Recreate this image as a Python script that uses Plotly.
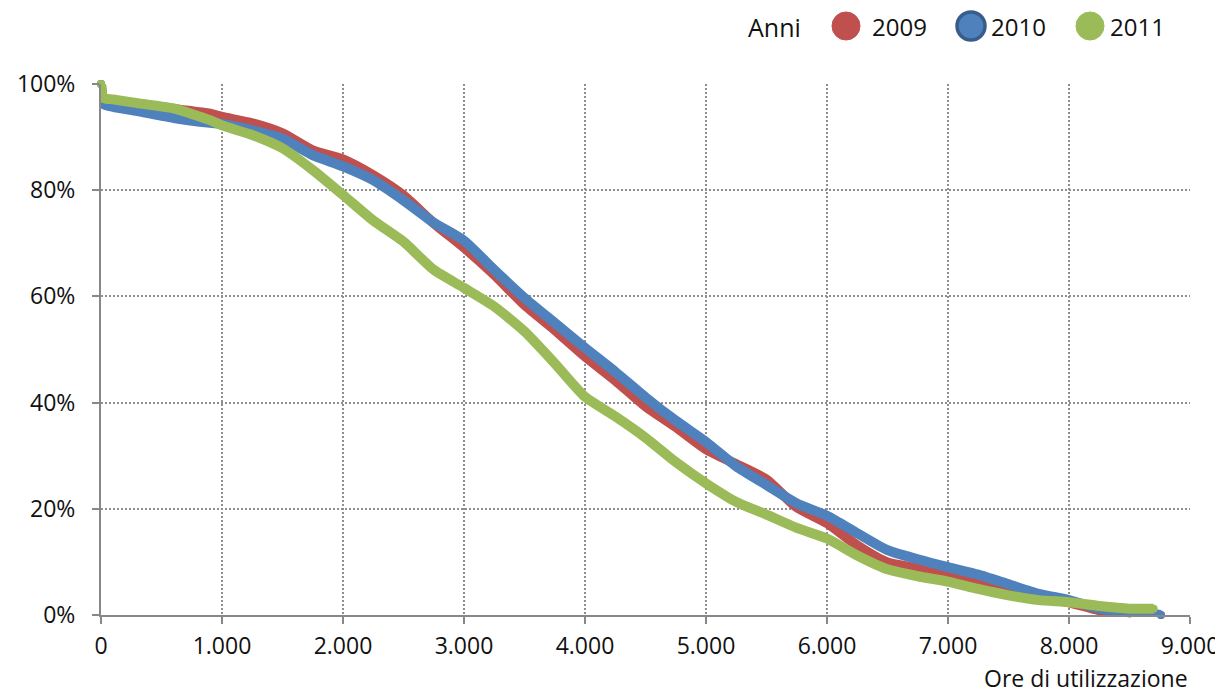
import plotly.graph_objects as go

# ---- data (hours of use vs % of peak) ----
hours_2009 = [0, 20, 100, 300, 600, 900, 1000, 1250, 1500, 1750, 2000, 2250, 2500, 2750, 3000,
              3250, 3500, 3750, 4000, 4250, 4500, 4750, 5000, 5250, 5500, 5750, 6000, 6250,
              6500, 6750, 7000, 7250, 7500, 7750, 8000, 8250, 8500, 8760]
pct_2009 = [100, 97.2, 96.9, 96.3, 95.3, 94.4, 93.8, 92.6, 90.7, 87.5, 85.8, 82.8, 79.0, 73.8, 69.2,
            64.1, 58.4, 53.7, 48.7, 44.2, 39.3, 35.4, 31.2, 28.4, 25.5, 20.3, 17.3, 13.1,
            9.9, 8.8, 7.6, 6.4, 4.6, 3.4, 2.4, 0.9, 0.3, 0]

hours_2010 = [0, 20, 100, 300, 600, 900, 1000, 1250, 1500, 1750, 2000, 2250, 2500, 2750, 3000,
              3250, 3500, 3750, 4000, 4250, 4500, 4750, 5000, 5250, 5500, 5750, 6000, 6250,
              6500, 6750, 7000, 7250, 7500, 7750, 8000, 8250, 8500, 8760]
pct_2010 = [100, 96.2, 95.7, 94.9, 93.6, 92.7, 92.5, 91.3, 89.7, 86.6, 84.5, 81.9, 78.1, 73.9, 70.5,
            65.0, 59.7, 55.0, 50.3, 45.8, 41.0, 36.6, 32.6, 28.0, 24.5, 21.0, 18.7, 15.4,
            12.2, 10.5, 9.0, 7.6, 5.8, 4.0, 2.8, 1.2, 0.6, 0]

hours_2011 = [0, 20, 100, 300, 600, 900, 1000, 1250, 1500, 1750, 2000, 2250, 2500, 2750, 3000,
              3250, 3500, 3750, 4000, 4250, 4500, 4750, 5000, 5250, 5500, 5750, 6000, 6250,
              6500, 6750, 7000, 7250, 7500, 7750, 8000, 8250, 8500, 8700]
pct_2011 = [100, 97.4, 97.1, 96.4, 95.4, 93.2, 92.2, 90.4, 87.9, 83.8, 79.1, 74.3, 70.3, 65.0, 61.6,
            58.1, 53.4, 47.4, 41.1, 37.4, 33.4, 28.8, 24.8, 21.3, 18.9, 16.4, 14.4, 11.2,
            8.6, 7.3, 6.3, 4.9, 3.7, 2.8, 2.4, 1.7, 1.2, 1.2]

years = ["2009", "2010", "2011"]
x_tickvals = [0, 1000, 2000, 3000, 4000, 5000, 6000, 7000, 8000, 9000]
x_ticktext = ["0", "1.000", "2.000", "3.000", "4.000", "5.000", "6.000", "7.000", "8.000", "9.000"]
y_tickvals = [0, 20, 40, 60, 80, 100]
y_ticktext = ["0%", "20%", "40%", "60%", "80%", "100%"]
legend_title = "Anni"
x_title = "Ore di utilizzazione"

colors = {"2009": "#C0504D", "2010": "#4F81BD", "2011": "#9BBB59"}
FONT = "Open Sans, Noto Sans, DejaVu Sans, sans-serif"
TXT = "#111111"

# page offset of the plot div (browser body margin)
OFF = 8
W, H = 1223 - OFF, 697 - OFF
# plot area in page pixels: x 101..1190, y 84..615
L = 101 - OFF
T = 84 - OFF
R = W - (1190 - OFF)
B = H - (615 - OFF)

series = {"2009": (hours_2009, pct_2009), "2010": (hours_2010, pct_2010), "2011": (hours_2011, pct_2011)}

fig = go.Figure()
for yr in years:
    xs, ys = series[yr]
    fig.add_trace(go.Scatter(
        x=xs, y=ys, mode="lines+markers", name=yr,
        line=dict(color=colors[yr], width=10, shape="spline", smoothing=0.6),
        marker=dict(color=colors[yr], size=8),
        cliponaxis=False, showlegend=False, hoverinfo="skip"))

def px2paper_x(px):
    # px in page coordinates
    return (px - 101) / (1190 - 101)

def px2paper_y(py):
    return (615 - py) / (615 - 84)

# manual legend (large circular symbols)
shapes = []
annotations = []
legend_y = px2paper_y(27)
annotations.append(dict(text=legend_title, x=px2paper_x(746), y=legend_y, xref="paper", yref="paper",
                        xanchor="left", yanchor="middle", showarrow=False,
                        font=dict(family=FONT, size=25, color=TXT)))
circle_cx = {"2009": 846, "2010": 971, "2011": 1090}
text_x = {"2009": 870, "2010": 989, "2011": 1108}
for yr in years:
    border = "#385D8A" if yr == "2010" else colors[yr]
    bw = 3.5 if yr == "2010" else 1
    shapes.append(dict(type="circle", xref="paper", yref="paper",
                       xsizemode="pixel", ysizemode="pixel",
                       xanchor=px2paper_x(circle_cx[yr]), yanchor=px2paper_y(26),
                       x0=-14, x1=14, y0=-14, y1=14,
                       fillcolor=colors[yr], line=dict(color=border, width=bw)))
    annotations.append(dict(text=yr, x=px2paper_x(text_x[yr]), y=legend_y, xref="paper", yref="paper",
                            xanchor="left", yanchor="middle", showarrow=False,
                            font=dict(family=FONT, size=24, color=TXT)))

annotations.append(dict(text=x_title, x=px2paper_x(1190), y=px2paper_y(696), xref="paper", yref="paper",
                        xanchor="right", yanchor="bottom", showarrow=False,
                        font=dict(family=FONT, size=23, color=TXT)))

fig.update_layout(
    width=W, height=H,
    margin=dict(l=L, r=R, t=T, b=B, autoexpand=False),
    paper_bgcolor="white", plot_bgcolor="white",
    font=dict(family=FONT, size=23, color=TXT),
    shapes=shapes, annotations=annotations,
    showlegend=False,
)
fig.update_xaxes(
    range=[0, 9000], tickmode="array", tickvals=x_tickvals, ticktext=x_ticktext,
    showgrid=True, gridcolor="#8E8E8E", gridwidth=1.5, griddash="2px,2px",
    showline=True, linecolor="#888888", linewidth=2,
    ticks="outside", ticklen=7, tickwidth=2, tickcolor="#888888",
    zeroline=False, ticklabelstandoff=2, automargin=False,
    tickfont=dict(family=FONT, size=23, color=TXT),
)
fig.update_yaxes(
    range=[0, 100], tickmode="array", tickvals=y_tickvals, ticktext=y_ticktext,
    showgrid=True, gridcolor="#8E8E8E", gridwidth=1.5, griddash="2px,2px",
    showline=True, linecolor="#888888", linewidth=2,
    ticks="outside", ticklen=7, tickwidth=2, tickcolor="#888888",
    zeroline=False, ticklabelstandoff=12, automargin=False,
    tickfont=dict(family=FONT, size=23, color=TXT),
)

fig.write_html("out.html")
